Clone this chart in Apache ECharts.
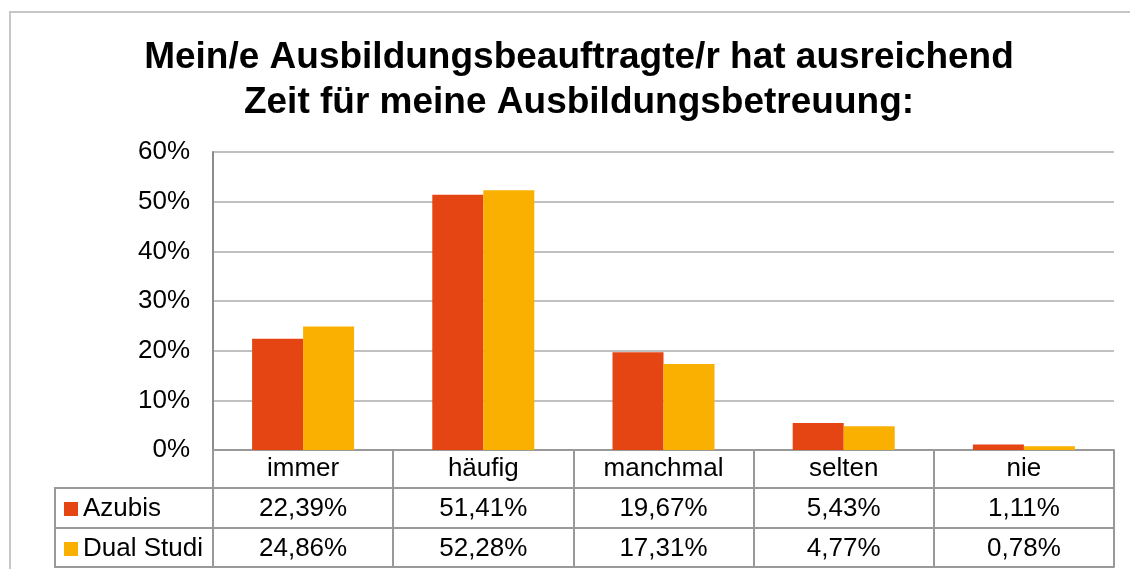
<!DOCTYPE html>
<html>
<head>
<meta charset="utf-8">
<script src="https://cdn.jsdelivr.net/npm/echarts@6/dist/echarts.min.js"></script>
<style>
  html, body { margin: 0; padding: 0; background: #fff; }
  #chart { width: 1130px; height: 569px; }
</style>
</head>
<body>
<div id="chart"></div>
<script>
const categories = ['immer', 'häufig', 'manchmal', 'selten', 'nie']
const azubis = [22.39, 51.41, 19.67, 5.43, 1.11]
const dualStudi = [24.86, 52.28, 17.31, 4.77, 0.78]
const seriesNames = ['Azubis', 'Dual Studi']
const yTicks = { min: 0, max: 60, step: 10 }

const red = '#e54413'
const amber = '#f9b000'
const lineGray = '#999999'
const font = "'Liberation Sans', Arial, sans-serif"

// 22.39 -> "22,39%"
const fmt = (v) => v.toFixed(2).replace('.', ',') + '%'

const chart = echarts.init(document.getElementById('chart'), null, { renderer: 'canvas' })

// rows of the data table are extra category axes pushed down with offset
const tableRow = (data, offset, showLabel) => ({
  type: 'category',
  gridIndex: 0,
  position: 'bottom',
  offset: offset,
  data: data,
  axisLine: { show: true, lineStyle: { color: lineGray, width: 2 } },
  axisTick: { show: false },
  axisLabel: {
    show: showLabel,
    interval: 0,
    margin: 8,
    color: '#000',
    fontSize: 26,
    lineHeight: 26,
    fontFamily: font,
  },
  splitLine: { show: false },
})

chart.setOption({
  backgroundColor: '#fff',
  animation: false,
  textStyle: { fontFamily: font },
  title: {
    text: 'Mein/e Ausbildungsbeauftragte/r hat ausreichend\nZeit für meine Ausbildungsbetreuung:',
    // with textAlign center, left is the centre line of the title
    left: 579,
    top: 35,
    textAlign: 'center',
    padding: 0,
    textStyle: {
      fontFamily: font,
      fontSize: 37,
      fontWeight: 'bold',
      lineHeight: 45,
      color: '#000',
    },
  },
  legend: {
    orient: 'vertical',
    left: 64,
    top: 496,
    itemGap: 14,
    itemWidth: 14,
    itemHeight: 14,
    icon: 'rect',
    padding: 0,
    selectedMode: false,
    data: seriesNames,
    textStyle: { color: '#000', fontSize: 26, lineHeight: 26, fontFamily: font },
  },
  grid: { left: 213, right: 16, top: 152, bottom: 119, containLabel: false },
  xAxis: [
    {
      type: 'category',
      data: categories,
      position: 'bottom',
      axisLine: { show: true, lineStyle: { color: lineGray, width: 2 } },
      axisTick: {
        show: true,
        interval: 0,
        length: 117,
        alignWithLabel: false,
        lineStyle: { color: lineGray, width: 2 },
      },
      axisLabel: {
        interval: 0,
        margin: 6,
        color: '#000',
        fontSize: 26,
        lineHeight: 26,
        fontFamily: font,
      },
    },
    tableRow(azubis.map(fmt), 38, true),
    tableRow(dualStudi.map(fmt), 78, true),
    tableRow(categories, 117, false),
  ],
  yAxis: {
    type: 'value',
    min: yTicks.min,
    max: yTicks.max,
    interval: yTicks.step,
    axisLine: { show: true, lineStyle: { color: '#8c8c8c', width: 2 } },
    axisTick: { show: false },
    axisLabel: {
      formatter: '{value}%',
      margin: 23,
      color: '#000',
      fontSize: 26,
      fontFamily: font,
    },
    splitLine: { lineStyle: { color: '#c0c0c0', width: 2 } },
  },
  series: [
    {
      name: seriesNames[0],
      type: 'bar',
      data: azubis,
      barWidth: 51,
      barGap: '0%',
      itemStyle: { color: red },
    },
    {
      name: seriesNames[1],
      type: 'bar',
      data: dualStudi,
      barWidth: 51,
      barGap: '0%',
      itemStyle: { color: amber },
    },
  ],
  graphic: [
    // outer chart-area frame (runs off the right and bottom edges)
    {
      type: 'rect',
      shape: { x: 10, y: 12, width: 1200, height: 620 },
      style: { fill: null, stroke: '#c6c6c6', lineWidth: 2 },
      silent: true,
    },
    // legend column of the data table
    {
      type: 'rect',
      shape: { x: 55, y: 488, width: 158, height: 79 },
      style: { fill: null, stroke: lineGray, lineWidth: 2 },
      silent: true,
    },
    {
      type: 'line',
      shape: { x1: 55, y1: 528, x2: 213, y2: 528 },
      style: { stroke: lineGray, lineWidth: 2 },
      silent: true,
    },
  ],
})
</script>
</body>
</html>
